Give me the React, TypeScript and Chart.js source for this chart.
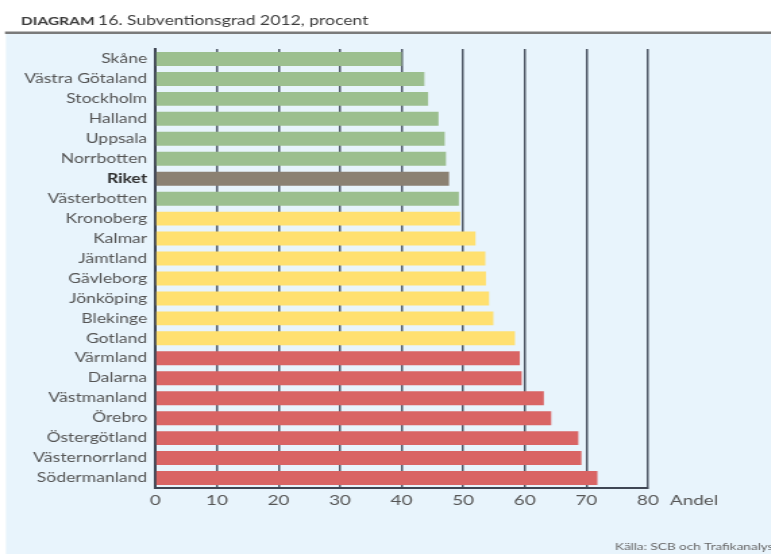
import React, { useEffect, useRef } from 'react';
import { Chart, registerables } from 'chart.js';

Chart.register(...registerables);

const categories = [
  'Skåne', 'Västra Götaland', 'Stockholm', 'Halland', 'Uppsala', 'Norrbotten',
  'Riket', 'Västerbotten', 'Kronoberg', 'Kalmar', 'Jämtland', 'Gävleborg',
  'Jönköping', 'Blekinge', 'Gotland', 'Värmland', 'Dalarna', 'Västmanland',
  'Örebro', 'Östergötland', 'Västernorrland', 'Södermanland',
];
const values = [
  40.0, 43.7, 44.3, 46.0, 47.0, 47.2,
  47.7, 49.3, 49.5, 52.0, 53.6, 53.7,
  54.2, 54.9, 58.4, 59.2, 59.5, 63.1,
  64.3, 68.7, 69.2, 71.8,
];
const groups = [
  'low', 'low', 'low', 'low', 'low', 'low',
  'total', 'low', 'mid', 'mid', 'mid', 'mid',
  'mid', 'mid', 'mid', 'high', 'high', 'high',
  'high', 'high', 'high', 'high',
];
const xTickMin = 0;
const xTickMax = 80;
const xTickStep = 10;
const titleLead = 'DIAGRAM';
const titleText = '16. Subventionsgrad 2012, procent';
const axisTitle = 'Andel';
const sourceText = 'Källa: SCB och Trafikanalys';

const S = 1.35; // horizontal stretch of the whole picture
const PAGE_W = 771;
const PAGE_H = 554;
const FONT = 'Lato, "Open Sans", sans-serif';

const palette: Record<string, string> = {
  low: '#9cbf8f',
  total: '#8b8172',
  mid: '#ffe070',
  high: '#d96464',
};

const decor = {
  id: 'decor',
  beforeDraw(chart: any) {
    const ctx = chart.ctx as CanvasRenderingContext2D;
    const W = chart.width;
    const H = chart.height;
    ctx.save();
    ctx.fillStyle = '#ffffff';
    ctx.fillRect(0, 0, W, H);
    ctx.fillStyle = '#e8f4fc';
    ctx.fillRect(6 / S, 34, W, H - 34);
    ctx.fillStyle = '#7a7a7a';
    ctx.fillRect(5 / S, 31.5, W, 2.5);
    ctx.fillStyle = '#3c3c3c';
    ctx.textBaseline = 'alphabetic';
    ctx.textAlign = 'left';
    ctx.font = `bold 11.5px ${FONT}`;
    ctx.fillText(titleLead, 21 / S, 24.5);
    ctx.font = `13px ${FONT}`;
    ctx.fillText(titleText, 98 / S, 24.5);
    ctx.restore();
  },
  afterDraw(chart: any) {
    const ctx = chart.ctx as CanvasRenderingContext2D;
    const xs = chart.scales.x;
    ctx.save();
    ctx.fillStyle = '#555555';
    ctx.font = `14px ${FONT}`;
    ctx.textAlign = 'left';
    ctx.textBaseline = 'middle';
    ctx.fillText(axisTitle, xs.getPixelForValue(xTickMax) + 22 / S, chart.chartArea.bottom + 12);
    ctx.font = `10px ${FONT}`;
    ctx.fillStyle = '#666666';
    ctx.textBaseline = 'alphabetic';
    ctx.fillText(sourceText, 615 / S, 550);
    ctx.restore();
  },
};

export default function App() {
  const ref = useRef<HTMLCanvasElement | null>(null);
  useEffect(() => {
    const canvas = ref.current!;
    const chart = new Chart(canvas, {
      type: 'bar',
      data: {
        labels: categories,
        datasets: [
          {
            data: values,
            backgroundColor: groups.map((g) => palette[g]),
            borderWidth: 0,
            barPercentage: 0.7,
            categoryPercentage: 1.0,
          },
        ],
      },
      options: {
        indexAxis: 'y',
        responsive: false,
        animation: false,
        devicePixelRatio: 1,
        layout: { padding: { top: 49, left: 0, right: (PAGE_W - 646.7) / S, bottom: 0 } },
        plugins: { legend: { display: false }, tooltip: { enabled: false }, title: { display: false } },
        scales: {
          x: {
            type: 'linear',
            min: xTickMin,
            max: xTickMax,
            ticks: {
              stepSize: xTickStep,
              padding: 4,
              color: '#555555',
              font: { family: FONT, size: 14 },
            },
            grid: {
              color: '#4f5866',
              lineWidth: 1.5,
              drawTicks: false,
            },
            border: { color: '#3f4654', width: 2 },
            afterFit(scale: any) {
              scale.height = PAGE_H - 488;
            },
          },
          y: {
            type: 'category',
            ticks: {
              padding: 6,
              color: (c: any) => (c.index === 6 ? '#2e2e2e' : '#555555'),
              font: (c: any) => ({ family: FONT, size: 13, weight: c.index === 6 ? 'bold' : 'normal' }),
            },
            grid: { display: false, drawTicks: false },
            border: { color: '#3f4654', width: 2 },
            afterFit(scale: any) {
              scale.width = 155.3 / S;
            },
          },
        },
      },
      plugins: [decor],
    });
    return () => chart.destroy();
  }, []);

  return (
    <div
      style={{
        position: 'fixed',
        left: 0,
        top: 0,
        width: PAGE_W,
        height: PAGE_H,
        overflow: 'hidden',
        background: '#fff',
      }}
    >
      <canvas
        ref={ref}
        width={Math.ceil(PAGE_W / S)}
        height={PAGE_H}
        style={{ display: 'block', transform: `scaleX(${S})`, transformOrigin: '0 0' }}
      />
    </div>
  );
}
